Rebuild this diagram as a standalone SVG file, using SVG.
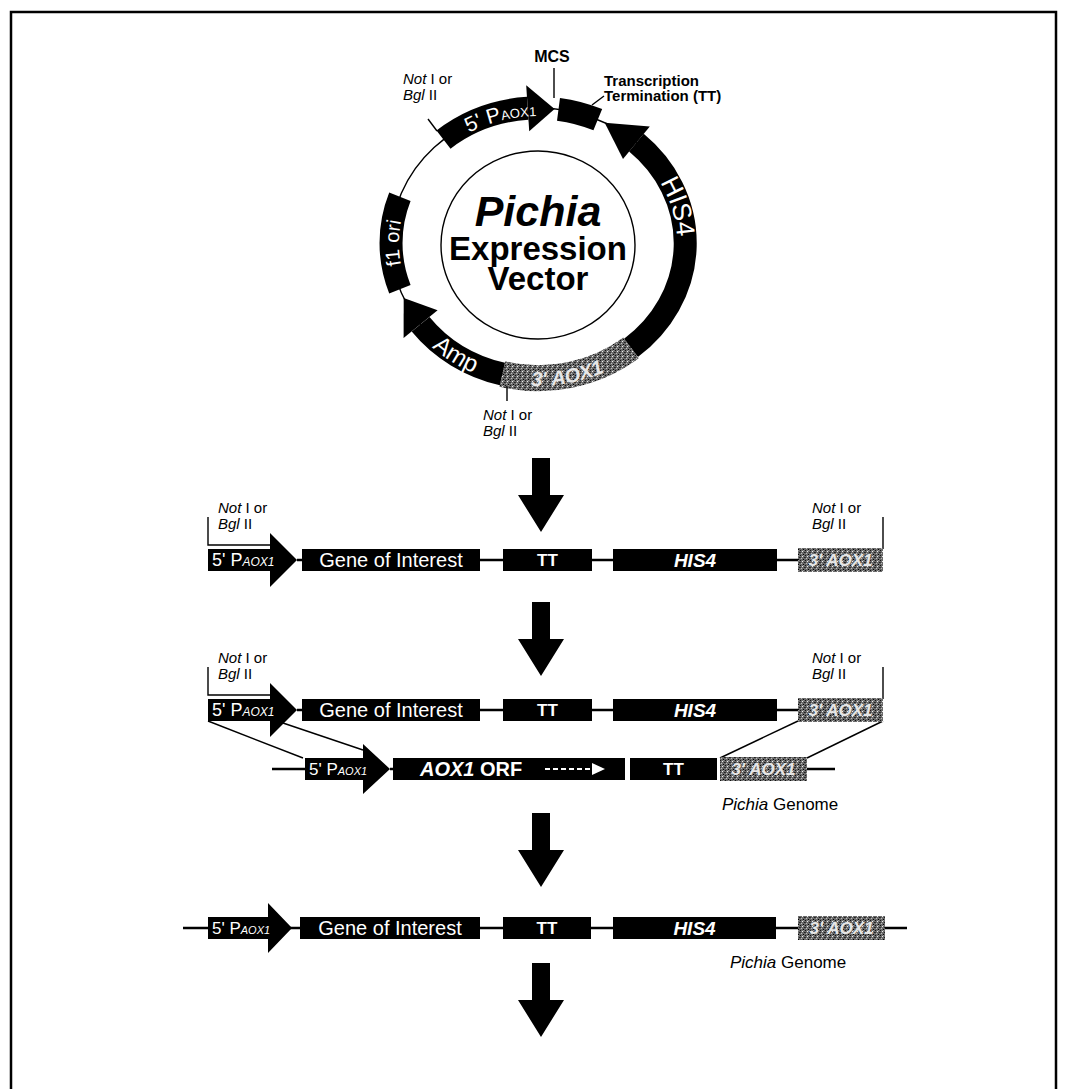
<svg xmlns="http://www.w3.org/2000/svg" width="1067" height="1089" viewBox="0 0 1067 1089">
<style>
text{font-family:"Liberation Sans",Arial,Helvetica,sans-serif;}
.lbl{font-size:15px;fill:#000}
.it{font-style:italic}
.b{font-weight:bold}
.w{fill:#fff}
.g{fill:#e6e6e6}
.thin{fill:none;stroke:#000;stroke-width:1.4}
.ln{fill:none;stroke:#000;stroke-width:2.5}
.box{fill:#000}
.gbox{fill:url(#stip)}
.band{fill:none;stroke:#000;stroke-width:23}
</style>
<defs>
<pattern id="stip" width="5" height="5" patternUnits="userSpaceOnUse">
<rect width="5" height="5" fill="#6a6a6a"/>
<rect x="0" y="0" width="1" height="1" fill="#111"/>
<rect x="2" y="1" width="1" height="1" fill="#eee"/>
<rect x="4" y="2" width="1" height="1" fill="#222"/>
<rect x="1" y="3" width="1" height="1" fill="#bbb"/>
<rect x="3" y="4" width="1" height="1" fill="#000"/>
<rect x="3" y="0" width="1" height="1" fill="#999"/>
<rect x="0" y="2" width="1" height="1" fill="#333"/>
</pattern>
<path id="cw" d="M 538 370 A 139 127 0 1 1 538 116 A 139 127 0 1 1 538 370"/>
<path id="ccw" d="M 538 100 A 155 143 0 1 0 538 386 A 155 143 0 1 0 538 100"/>
<path id="bigarrow" d="M -9 0 H 9 V 37 H 23 L 0 74 L -23 37 H -9 Z"/>
</defs>
<rect width="1067" height="1089" fill="#fff"/>
<path id="frame" d="M 11 1089 V 12 H 1056 V 1089" fill="none" stroke="#000" stroke-width="2.5"/>

<!-- Plasmid -->
<g id="plasmid">
<ellipse id="backbone" cx="538" cy="243" rx="147" ry="135" class="thin" stroke-width="1.8"/>
<ellipse id="inner-circle" cx="538" cy="245" rx="97" ry="94" class="thin" stroke-width="1.2"/>
<text x="538" y="226" text-anchor="middle" font-size="43" class="b it">Pichia</text>
<text x="538" y="260" text-anchor="middle" font-size="33" class="b">Expression</text>
<text x="538" y="290" text-anchor="middle" font-size="33" class="b">Vector</text>
</g>
<g id="p-5paox1">
<path class="band" d="M 443.5 139.6 A 147 135 0 0 1 527.7 108.3"/>
<polygon points="526.2,85.3 554.6,108.9 529.2,131.3" fill="#000"/>
<text font-size="21" class="w"><textPath href="#cw" startOffset="45.6%" text-anchor="middle">5' P<tspan font-size="13">AOX1</tspan></textPath></text>
</g>
<g id="p-tt">
<path class="band" stroke-width="24" d="M 558.5 109.3 A 147 135 0 0 1 597.8 119.7"/>
</g>
<g id="p-his4">
<path class="band" d="M 636.4 142.7 A 147 135 0 0 1 631.0 347.9"/>
<polygon points="649.8,126.5 604.7,122.7 623.0,158.9" fill="#000"/>
<text font-size="26" class="w"><textPath href="#cw" startOffset="70.8%" text-anchor="middle">HIS4</textPath></text>
</g>
<g id="p-3aox1">
<path fill="none" stroke="url(#stip)" stroke-width="26" d="M 631.0 347.9 A 147 135 0 0 1 502.4 374.0"/>
<text font-size="20" class="b it g"><textPath href="#ccw" startOffset="53.3%" text-anchor="middle">3' AOX1</textPath></text>
</g>
<g id="p-amp">
<path class="band" d="M 502.4 374.0 A 147 135 0 0 1 420.6 324.2"/>
<polygon points="403.6,338.1 403.7,297.9 437.6,310.3" fill="#000"/>
<text font-size="24" class="w"><textPath href="#ccw" startOffset="40.3%" text-anchor="middle">Amp</textPath></text>
</g>
<g id="p-f1ori">
<path class="band" stroke-width="24" d="M 399.9 289.2 A 147 135 0 0 1 399.9 196.8"/>
<text font-size="20" class="w"><textPath href="#cw" startOffset="25%" text-anchor="middle">f1 ori</textPath></text>
</g>
<g id="p-labels">
<text x="552" y="62" text-anchor="middle" font-size="16" class="b">MCS</text>
<line x1="554" y1="68" x2="554" y2="98" class="thin" stroke-width="1.8"/>
<text x="604" y="86" font-size="15" class="b">Transcription</text>
<text x="604" y="101" font-size="15" class="b">Termination (TT)</text>
<line x1="604" y1="96" x2="592" y2="105" class="thin"/>
<text x="403" y="84" class="lbl"><tspan class="it">Not</tspan> I or</text>
<text x="403" y="100" class="lbl"><tspan class="it">Bgl</tspan> II</text>
<line x1="428" y1="119" x2="437" y2="131" class="thin"/>
<line x1="507" y1="386" x2="507" y2="401" class="thin"/>
<text x="483" y="420" class="lbl"><tspan class="it">Not</tspan> I or</text>
<text x="483" y="436" class="lbl"><tspan class="it">Bgl</tspan> II</text>
</g>

<!-- Connectors -->
<g id="connectors">
<use href="#bigarrow" x="541" y="458" fill="#000"/>
<use href="#bigarrow" x="541" y="602" fill="#000"/>
<use href="#bigarrow" x="541" y="813" fill="#000"/>
<use href="#bigarrow" x="541" y="963" fill="#000"/>
<!-- row 1 -->
<path class="ln" d="M 297 560 H 883"/>
<path class="thin" d="M 208 517 V 545 H 270"/>
<path class="thin" d="M 883 517 V 549"/>
<!-- row 2 -->
<path class="ln" d="M 297 710 H 883"/>
<path class="thin" d="M 208 667 V 695 H 270"/>
<path class="thin" d="M 883 667 V 699"/>
<!-- crossover -->
<path class="thin" d="M 208 721 L 303 758"/>
<path class="thin" d="M 280 722 L 363 750"/>
<path class="thin" d="M 798 721 L 720 758"/>
<path class="thin" d="M 883 721 L 807 758"/>
<!-- row 3 -->
<path class="ln" d="M 272 769 H 305 M 390 769 H 394 M 806 769 H 835"/>
<!-- row 4 -->
<path class="ln" d="M 183 928 H 907"/>
</g>

<!-- Row 1 -->
<g id="row1-labels">
<text x="218" y="513" class="lbl"><tspan class="it">Not</tspan> I or</text>
<text x="218" y="529" class="lbl"><tspan class="it">Bgl</tspan> II</text>
<text x="812" y="513" class="lbl"><tspan class="it">Not</tspan> I or</text>
<text x="812" y="529" class="lbl"><tspan class="it">Bgl</tspan> II</text>
</g>
<g id="row1-5paox1">
<path class="box" d="M 208 549 H 270 V 533 L 297 560 L 270 587 V 571 H 208 Z"/>
<text x="212" y="566" font-size="18" class="w">5' P<tspan font-size="12" class="it">AOX1</tspan></text>
</g>
<g id="row1-goi"><rect x="302" y="549" width="178" height="22" class="box"/><text x="391" y="567" text-anchor="middle" font-size="20" class="w">Gene of Interest</text></g>
<g id="row1-tt"><rect x="503" y="549" width="89" height="22" class="box"/><text x="547.5" y="566" text-anchor="middle" font-size="17" class="w b">TT</text></g>
<g id="row1-his4"><rect x="613" y="549" width="164" height="22" class="box"/><text x="695" y="567" text-anchor="middle" font-size="19" class="w b it">HIS4</text></g>
<g id="row1-3aox1"><rect x="798" y="548" width="85" height="24" class="gbox"/><text x="840.5" y="566" text-anchor="middle" font-size="17" class="g b it">3' AOX1</text></g>

<!-- Row 2 -->
<g id="row2-labels">
<text x="218" y="663" class="lbl"><tspan class="it">Not</tspan> I or</text>
<text x="218" y="679" class="lbl"><tspan class="it">Bgl</tspan> II</text>
<text x="812" y="663" class="lbl"><tspan class="it">Not</tspan> I or</text>
<text x="812" y="679" class="lbl"><tspan class="it">Bgl</tspan> II</text>
</g>
<g id="row2-5paox1">
<path class="box" d="M 208 699 H 270 V 683 L 297 710 L 270 737 V 721 H 208 Z"/>
<text x="212" y="716" font-size="18" class="w">5' P<tspan font-size="12" class="it">AOX1</tspan></text>
</g>
<g id="row2-goi"><rect x="302" y="699" width="178" height="22" class="box"/><text x="391" y="717" text-anchor="middle" font-size="20" class="w">Gene of Interest</text></g>
<g id="row2-tt"><rect x="503" y="699" width="89" height="22" class="box"/><text x="547.5" y="716" text-anchor="middle" font-size="17" class="w b">TT</text></g>
<g id="row2-his4"><rect x="613" y="699" width="164" height="22" class="box"/><text x="695" y="717" text-anchor="middle" font-size="19" class="w b it">HIS4</text></g>
<g id="row2-3aox1"><rect x="798" y="698" width="85" height="24" class="gbox"/><text x="840.5" y="716" text-anchor="middle" font-size="17" class="g b it">3' AOX1</text></g>

<!-- Row 3: genome -->
<g id="row3-5paox1">
<path class="box" d="M 305 758 H 363 V 744 L 390 769 L 363 794 V 780 H 305 Z"/>
<text x="309" y="775" font-size="17" class="w">5' P<tspan font-size="11" class="it">AOX1</tspan></text>
</g>
<g id="row3-orf">
<rect x="393" y="758" width="232" height="22" class="box"/>
<text x="420" y="776" font-size="20" class="w b"><tspan class="it">AOX1</tspan> ORF</text>
<line x1="545" y1="769" x2="594" y2="769" stroke="#fff" stroke-width="2" stroke-dasharray="5 3"/>
<polygon points="592,763 605,769 592,775" fill="#fff"/>
</g>
<g id="row3-tt"><rect x="630" y="758" width="87" height="22" class="box"/><text x="673.5" y="775" text-anchor="middle" font-size="17" class="w b">TT</text></g>
<g id="row3-3aox1"><rect x="720" y="757" width="87" height="24" class="gbox"/><text x="763.5" y="775" text-anchor="middle" font-size="17" class="g b it">3' AOX1</text></g>
<text id="row3-genome" x="722" y="810" font-size="17"><tspan class="it">Pichia</tspan> Genome</text>

<!-- Row 4 -->
<g id="row4-5paox1">
<path class="box" d="M 208 917 H 268 V 903 L 292 928 L 268 953 V 939 H 208 Z"/>
<text x="212" y="934" font-size="17" class="w">5' P<tspan font-size="11" class="it">AOX1</tspan></text>
</g>
<g id="row4-goi"><rect x="300" y="917" width="180" height="22" class="box"/><text x="390" y="935" text-anchor="middle" font-size="20" class="w">Gene of Interest</text></g>
<g id="row4-tt"><rect x="503" y="917" width="88" height="22" class="box"/><text x="547" y="934" text-anchor="middle" font-size="17" class="w b">TT</text></g>
<g id="row4-his4"><rect x="613" y="917" width="163" height="22" class="box"/><text x="694.5" y="935" text-anchor="middle" font-size="19" class="w b it">HIS4</text></g>
<g id="row4-3aox1"><rect x="798" y="916" width="87" height="24" class="gbox"/><text x="841.5" y="934" text-anchor="middle" font-size="17" class="g b it">3' AOX1</text></g>
<text id="row4-genome" x="730" y="968" font-size="17"><tspan class="it">Pichia</tspan> Genome</text>
</svg>
